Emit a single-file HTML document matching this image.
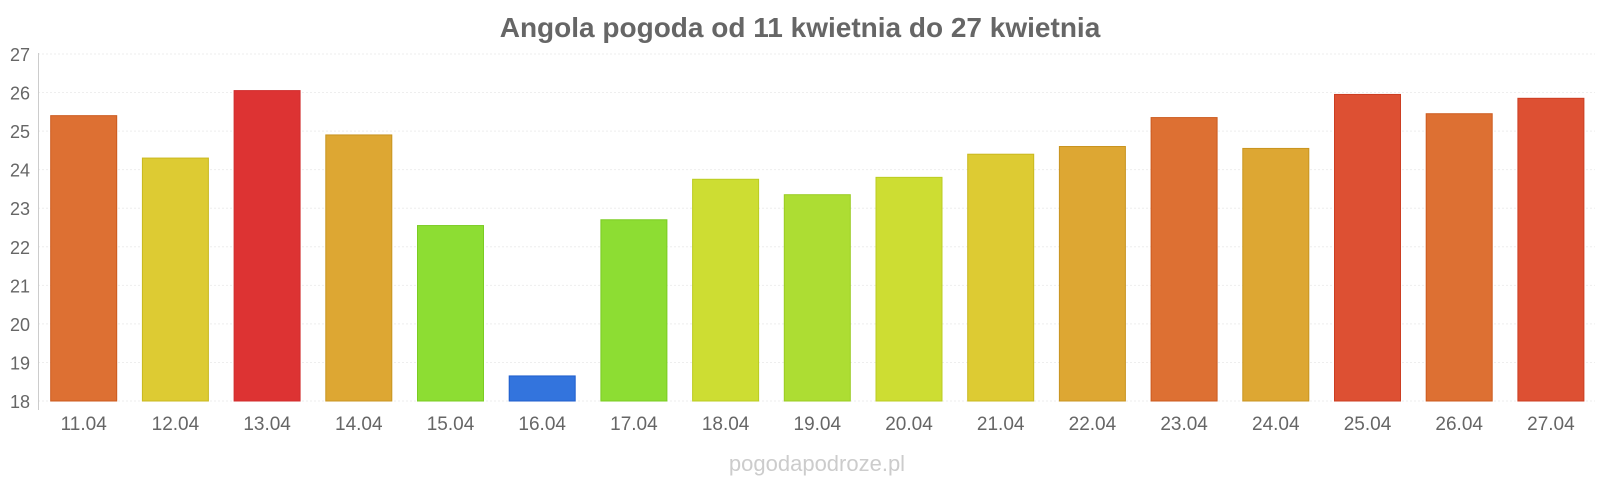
<!DOCTYPE html>
<html><head><meta charset="utf-8"><style>
body{margin:0;background:#fff;font-family:"Liberation Sans",sans-serif}
</style></head><body>
<svg width="1600" height="480" xmlns="http://www.w3.org/2000/svg" font-family="Liberation Sans, sans-serif">
<text x="800" y="37" text-anchor="middle" font-size="28" font-weight="bold" fill="#666">Angola pogoda od 11 kwietnia do 27 kwietnia</text>
<g id="grid" stroke="#eee" stroke-dasharray="2,2"></g>
<line x1="38.5" y1="53" x2="38.5" y2="410" stroke="#ccc"/>
<g id="bars"></g>
<g id="yl" font-size="18" fill="#666" text-anchor="end"></g>
<g id="xl" font-size="19" fill="#666" text-anchor="middle"></g>
<text x="817" y="471" text-anchor="middle" font-size="22" fill="#ccc">pogodapodroze.pl</text>
</svg>
<script>
var ns="http://www.w3.org/2000/svg";
function el(p,t,a,txt){var e=document.createElementNS(ns,t);for(var k in a)e.setAttribute(k,a[k]);if(txt)e.textContent=txt;document.getElementById(p).appendChild(e);}
function Y(v){return 401-(v-18)*38.56;}
for(var v=18;v<=27;v++){el("grid","line",{x1:38,x2:1595,y1:Y(v),y2:Y(v)});el("yl","text",{x:30,y:Y(v)+7},String(v));}
var vals=[25.4,24.3,26.05,24.9,22.55,18.65,22.7,23.75,23.35,23.8,24.4,24.6,25.35,24.55,25.95,25.45,25.85];
var cols=["#dd7033","#ddcb33","#dd3333","#dda733","#8ddd33","#3374dd","#8ddd33","#cddd33","#addd33","#cddd33","#ddcb33","#dda733","#dd7033","#dda733","#dd5033","#dd7033","#dd5033"];
var strokes=["#cc5a1e","#c9b81f","#d12e2e","#c99420","#7acc22","#1f5ecc","#7acc22","#bbcc22","#9acc22","#bbcc22","#c9b81f","#c99420","#cc5a1e","#c99420","#cc3e22","#cc5a1e","#cc3e22"];
for(var i=0;i<17;i++){var cx=83.7+i*91.7;var t=Y(vals[i]);
el("bars","rect",{x:cx-33,y:t,width:66,height:401-t,fill:cols[i],stroke:strokes[i],"stroke-width":1});
var d=11+i;el("xl","text",{x:cx,y:430},d+".04");}
</script>
</body></html>
